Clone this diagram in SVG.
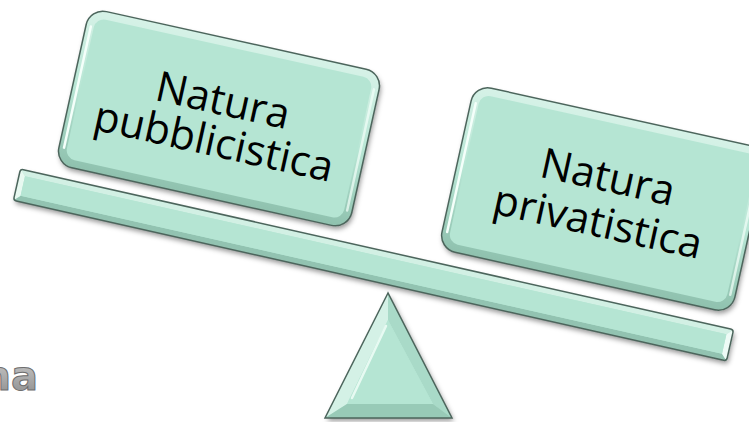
<svg xmlns="http://www.w3.org/2000/svg" width="749" height="422" viewBox="0 0 749 422">
  <defs>
    <filter id="sh" x="-20%" y="-20%" width="140%" height="150%">
      <feDropShadow dx="2" dy="3" stdDeviation="2.5" flood-color="#000" flood-opacity="0.4"/>
    </filter>
    <linearGradient id="boxBevel" x1="0" y1="0" x2="0" y2="1">
      <stop offset="0" stop-color="#d6f2e7"/>
      <stop offset="0.5" stop-color="#b8e6d5"/>
      <stop offset="1" stop-color="#8fc1ae"/>
    </linearGradient>
    <linearGradient id="naGrad" x1="0" y1="0" x2="0" y2="1">
      <stop offset="0" stop-color="#d0d0d0"/>
      <stop offset="1" stop-color="#8a8a8a"/>
    </linearGradient>
  </defs>
  <style>
    .face { fill: #b5e5d3; }
    .edge { fill: none; stroke: #4c655c; stroke-width: 1.5; }
    .hl { fill: none; stroke: #f4fffa; stroke-width: 2.5; stroke-linecap: round; }
    .lbl { font-family: "Open Sans", "DejaVu Sans", sans-serif; font-size: 42px; fill: #000; text-anchor: middle; }
    .na { font-family: "DejaVu Sans", "Liberation Sans", sans-serif; font-weight: bold; font-size: 40px; fill: url(#naGrad); stroke: #6e6e6e; stroke-width: 1; }
  </style>

  <text class="na" x="38" y="390" text-anchor="end">na</text>

  <g id="beam" transform="translate(373.5,265) rotate(12.7)">
    <g filter="url(#sh)">
      <rect x="-365.5" y="-16" width="731" height="32" rx="3" class="face"/>
    </g>
    <polygon points="-365.5,-16 365.5,-16 359.5,-10 -359.5,-10" fill="#d2f0e4"/>
    <polygon points="-365.5,16 365.5,16 359.5,10 -359.5,10" fill="#92c3b1"/>
    <polygon points="-365.5,-16 -359.5,-10 -359.5,10 -365.5,16" fill="#e8f9f1"/>
    <polygon points="365.5,-16 359.5,-10 359.5,10 365.5,16" fill="#eefbf6"/>
    <rect x="-359.5" y="-10" width="719" height="20" class="face"/>
    <rect x="-365.5" y="-16" width="731" height="32" rx="3" class="edge"/>
  </g>

  <g id="fulcrum">
    <g filter="url(#sh)">
      <polygon points="388,293 325,418 452,418" class="face"/>
    </g>
    <polygon points="388,293 325,418 347,404 388,320" fill="#d4f1e6"/>
    <polygon points="388,293 452,418 433,404 388,320" fill="#a9dac8"/>
    <polygon points="325,418 452,418 433,404 347,404" fill="#98cab7"/>
    <polygon points="388,320 347,404 433,404" class="face"/>
    <line x1="386" y1="326" x2="352" y2="398" class="hl" opacity="0.8"/>
    <polygon points="388,293 325,418 452,418" class="edge"/>
  </g>

  <g id="box-pubblicistica" transform="translate(219,118.5) rotate(12.5)">
    <rect x="-150" y="-80" width="300" height="160" rx="17" fill="url(#boxBevel)" filter="url(#sh)"/>
    <rect x="-142" y="-72" width="284" height="144" rx="10" class="face"/>
    <line x1="-145" y1="-62" x2="-145" y2="62" class="hl"/>
    <line x1="145" y1="-62" x2="145" y2="62" class="hl" opacity="0.7"/>
    <rect x="-150" y="-80" width="300" height="160" rx="17" class="edge"/>
    <text class="lbl" x="0" y="-4">Natura</text>
    <text class="lbl" x="0" y="38">pubblicistica</text>
  </g>

  <g id="box-privatistica" transform="translate(603,199) rotate(12.5)">
    <rect x="-150" y="-84" width="300" height="168" rx="17" fill="url(#boxBevel)" filter="url(#sh)"/>
    <rect x="-142" y="-76" width="284" height="152" rx="10" class="face"/>
    <line x1="-145" y1="-66" x2="-145" y2="66" class="hl"/>
    <line x1="145" y1="-66" x2="145" y2="66" class="hl" opacity="0.7"/>
    <rect x="-150" y="-84" width="300" height="168" rx="17" class="edge"/>
    <text class="lbl" x="0" y="-8">Natura</text>
    <text class="lbl" x="0" y="38">privatistica</text>
  </g>
</svg>
